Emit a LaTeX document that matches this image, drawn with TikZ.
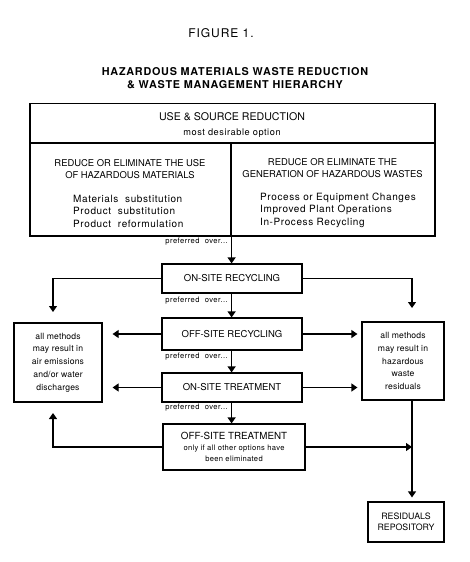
\documentclass[tikz,border=0pt]{standalone}
\usepackage{fontspec}
\setmainfont{TeX Gyre Heros}
\usepackage{tikz}
\usetikzlibrary{arrows.meta,positioning,calc}
\tikzset{
  hbox/.style={rectangle,draw,line width=1.2pt,minimum width=140pt,minimum height=29pt,inner sep=1pt,align=center,font=\fontsize{9.5}{11}\selectfont},
  sidebox/.style={rectangle,draw,line width=1.2pt,inner sep=0pt,align=center,font=\fontsize{8.6}{12.8}\selectfont\addfontfeature{LetterSpace=2}},
  colframe/.style={rectangle,draw,line width=1.2pt,minimum height=93pt,inner sep=0pt},
  prefl/.style={anchor=east,inner sep=0pt,font=\fontsize{7.6}{8}\selectfont\addfontfeature{LetterSpace=6}},
  flow/.style={-{Triangle[width=8pt,length=6pt]},line width=1.2pt},
  hdtxt/.style={align=center,inner sep=0pt,font=\fontsize{9.4}{12}\selectfont},
  itemtxt/.style={align=left,anchor=west,inner sep=0pt,font=\fontsize{10}{12.5}\selectfont\addfontfeature{LetterSpace=6}}
}

\begin{document}
\begin{tikzpicture}[x=1pt,y=-1pt]
  \useasboundingbox (0,0) rectangle (470,562);
  \node[font=\fontsize{12}{14}\selectfont\addfontfeature{LetterSpace=8}] (fig) at (221,33) {FIGURE 1.};
  \node[align=center,font=\bfseries\fontsize{10.8}{13}\selectfont\addfontfeature{LetterSpace=7}] (ttl) at (235,78.5) {HAZARDOUS MATERIALS WASTE REDUCTION\\\& WASTE MANAGEMENT HIERARCHY};

  \node[draw,line width=1.2pt,minimum width=405pt,minimum height=39.5pt,inner sep=0pt] (srcred) at (232.5,123.5) {};
  \node[font=\fontsize{10.6}{12}\selectfont,inner sep=0pt] (srcttl) at (232,117) {USE \& SOURCE REDUCTION};
  \node[font=\fontsize{9.2}{10}\selectfont\addfontfeature{LetterSpace=6},inner sep=0pt] (srcsub) at (232,133) {most desirable option};
  \node[colframe,minimum width=201pt] (redmat) at (130.5,189.5) {};
  \node[colframe,minimum width=204pt] (redgen) at (333,189.5) {};
  \node[hdtxt] (mathd) at (130,169) {REDUCE OR ELIMINATE THE USE\\OF HAZARDOUS MATERIALS};
  \node[hdtxt] (genhd) at (332.5,168) {REDUCE OR ELIMINATE THE\\GENERATION OF HAZARDOUS WASTES};
  \node[itemtxt] (matitems) at (73,211) {Materials\ \ substitution\\Product\ \ substitution\\Product\ \ reformulation};
  \node[itemtxt] (genitems) at (260,210) {Process or Equipment Changes\\Improved Plant Operations\\In-Process Recycling};

  \node[hbox] (onrec) at (232,278.5) {ON-SITE RECYCLING};
  \node[hbox,minimum height=32pt] (offrec) at (232,334) {OFF-SITE RECYCLING};
  \node[hbox] (ontreat) at (232,387.5) {ON-SITE TREATMENT};
  \node[hbox,minimum width=142pt,minimum height=46pt] (offtreat) at (234,447) {\fontsize{9.8}{13}\selectfont OFF-SITE TREATMENT\\\fontsize{7.6}{11}\selectfont\addfontfeature{LetterSpace=4} only if all other options have\\\fontsize{7.6}{11}\selectfont\addfontfeature{LetterSpace=4} been eliminated};

  \node[sidebox,minimum width=88pt,minimum height=79pt] (airbox) at (58,362.5) {all methods\\may result in\\air emissions\\and/or water\\discharges};
  \node[sidebox,minimum width=82pt,minimum height=78pt] (resbox) at (403,361) {all methods\\may result in\\hazardous\\waste\\residuals};
  \node[sidebox,minimum width=76pt,minimum height=40pt,font=\fontsize{8.8}{11}\selectfont] (repo) at (406,522) {RESIDUALS\\REPOSITORY};

  \node[prefl] (pref1) at (228,242) {preferred\ \ over...};
  \node[prefl] (pref2) at (228,301) {preferred\ \ over...};
  \node[prefl] (pref3) at (228,357) {preferred\ \ over...};
  \node[prefl] (pref4) at (228,408) {preferred\ \ over...};

  \coordinate (airin) at (53,312);
  \coordinate (airback) at (53,413);
  \coordinate (resin) at (412,308);
  \coordinate (resout) at (412,400);

  \draw[flow] (redmat.south east) -- (redmat.south east |- onrec.north);
  \draw[flow] (onrec.south -| redmat.south east) -- (offrec.north -| redmat.south east);
  \draw[flow] (offrec.south -| redmat.south east) -- (ontreat.north -| redmat.south east);
  \draw[flow] (ontreat.south -| redmat.south east) -- (offtreat.north -| redmat.south east);

  \draw[flow] (onrec.west) -| (airin);
  \draw[flow] (onrec.east) -| (resin);
  \draw[flow,shorten >=10pt] (offrec.west) -- (offrec.west -| airbox.east);
  \draw[flow,shorten >=4pt] (offrec.east) -- (offrec.east -| resbox.west);
  \draw[flow,shorten >=10pt] (ontreat.west) -- (ontreat.west -| airbox.east);
  \draw[flow,shorten >=4pt] (ontreat.east) -- (ontreat.east -| resbox.west);
  \draw[flow] (offtreat.west) -| (airback);
  \draw[flow] (offtreat.east) -- (offtreat.east -| resout);
  \draw[flow,shorten >=4pt] (resout) -- (resout |- repo.north);
\end{tikzpicture}
\end{document}
